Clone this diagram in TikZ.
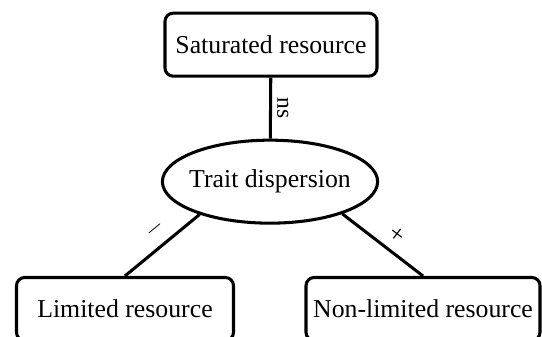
\documentclass[tikz,border=0pt]{standalone}
\usepackage{fontspec}
\setmainfont{Liberation Serif}
\usetikzlibrary{shapes.geometric}

\begin{document}
\begin{tikzpicture}[font=\fontsize{22}{25}\selectfont, line width=2.6pt]
    \tikzset{res box/.style={draw,rounded corners=7pt,minimum height=1.89cm,inner sep=0pt}}
    \tikzset{trait/.style={draw,ellipse,minimum width=6.3cm,minimum height=2.49cm,inner xsep=-4pt,inner ysep=0pt}}
    \tikzset{sign/.style={font=\fontsize{22}{25}\selectfont,sloped,above=3pt}}

    \useasboundingbox (0,0) rectangle (16.26,-10.11);
    \clip (0,0) rectangle (16.26,-10.11);

    % Resource boxes
    \node[res box, minimum width=6.36cm] (sat) at (8.13, -1.34) {Saturated resource};
    \node[res box, minimum width=6.51cm] (lim) at (3.75, -9.27) {Limited resource};
    \node[res box, minimum width=7.02cm] (nonlim) at (12.69, -9.27) {Non-limited resource};

    % Central ellipse
    \node[trait] (disp) at (8.1, -5.45) {Trait dispersion};

    % Links with their signs
    \draw (sat) -- (disp) node[midway, right=1pt, rotate=-90, anchor=south, font=\fontsize{20}{23}\selectfont] {ns};
    \draw (disp.205) -- (lim.north) node[sign, pos=0.45] {$-$};
    \draw (disp.-24) -- (nonlim.north) node[sign, pos=0.55] {+};
\end{tikzpicture}
\end{document}
